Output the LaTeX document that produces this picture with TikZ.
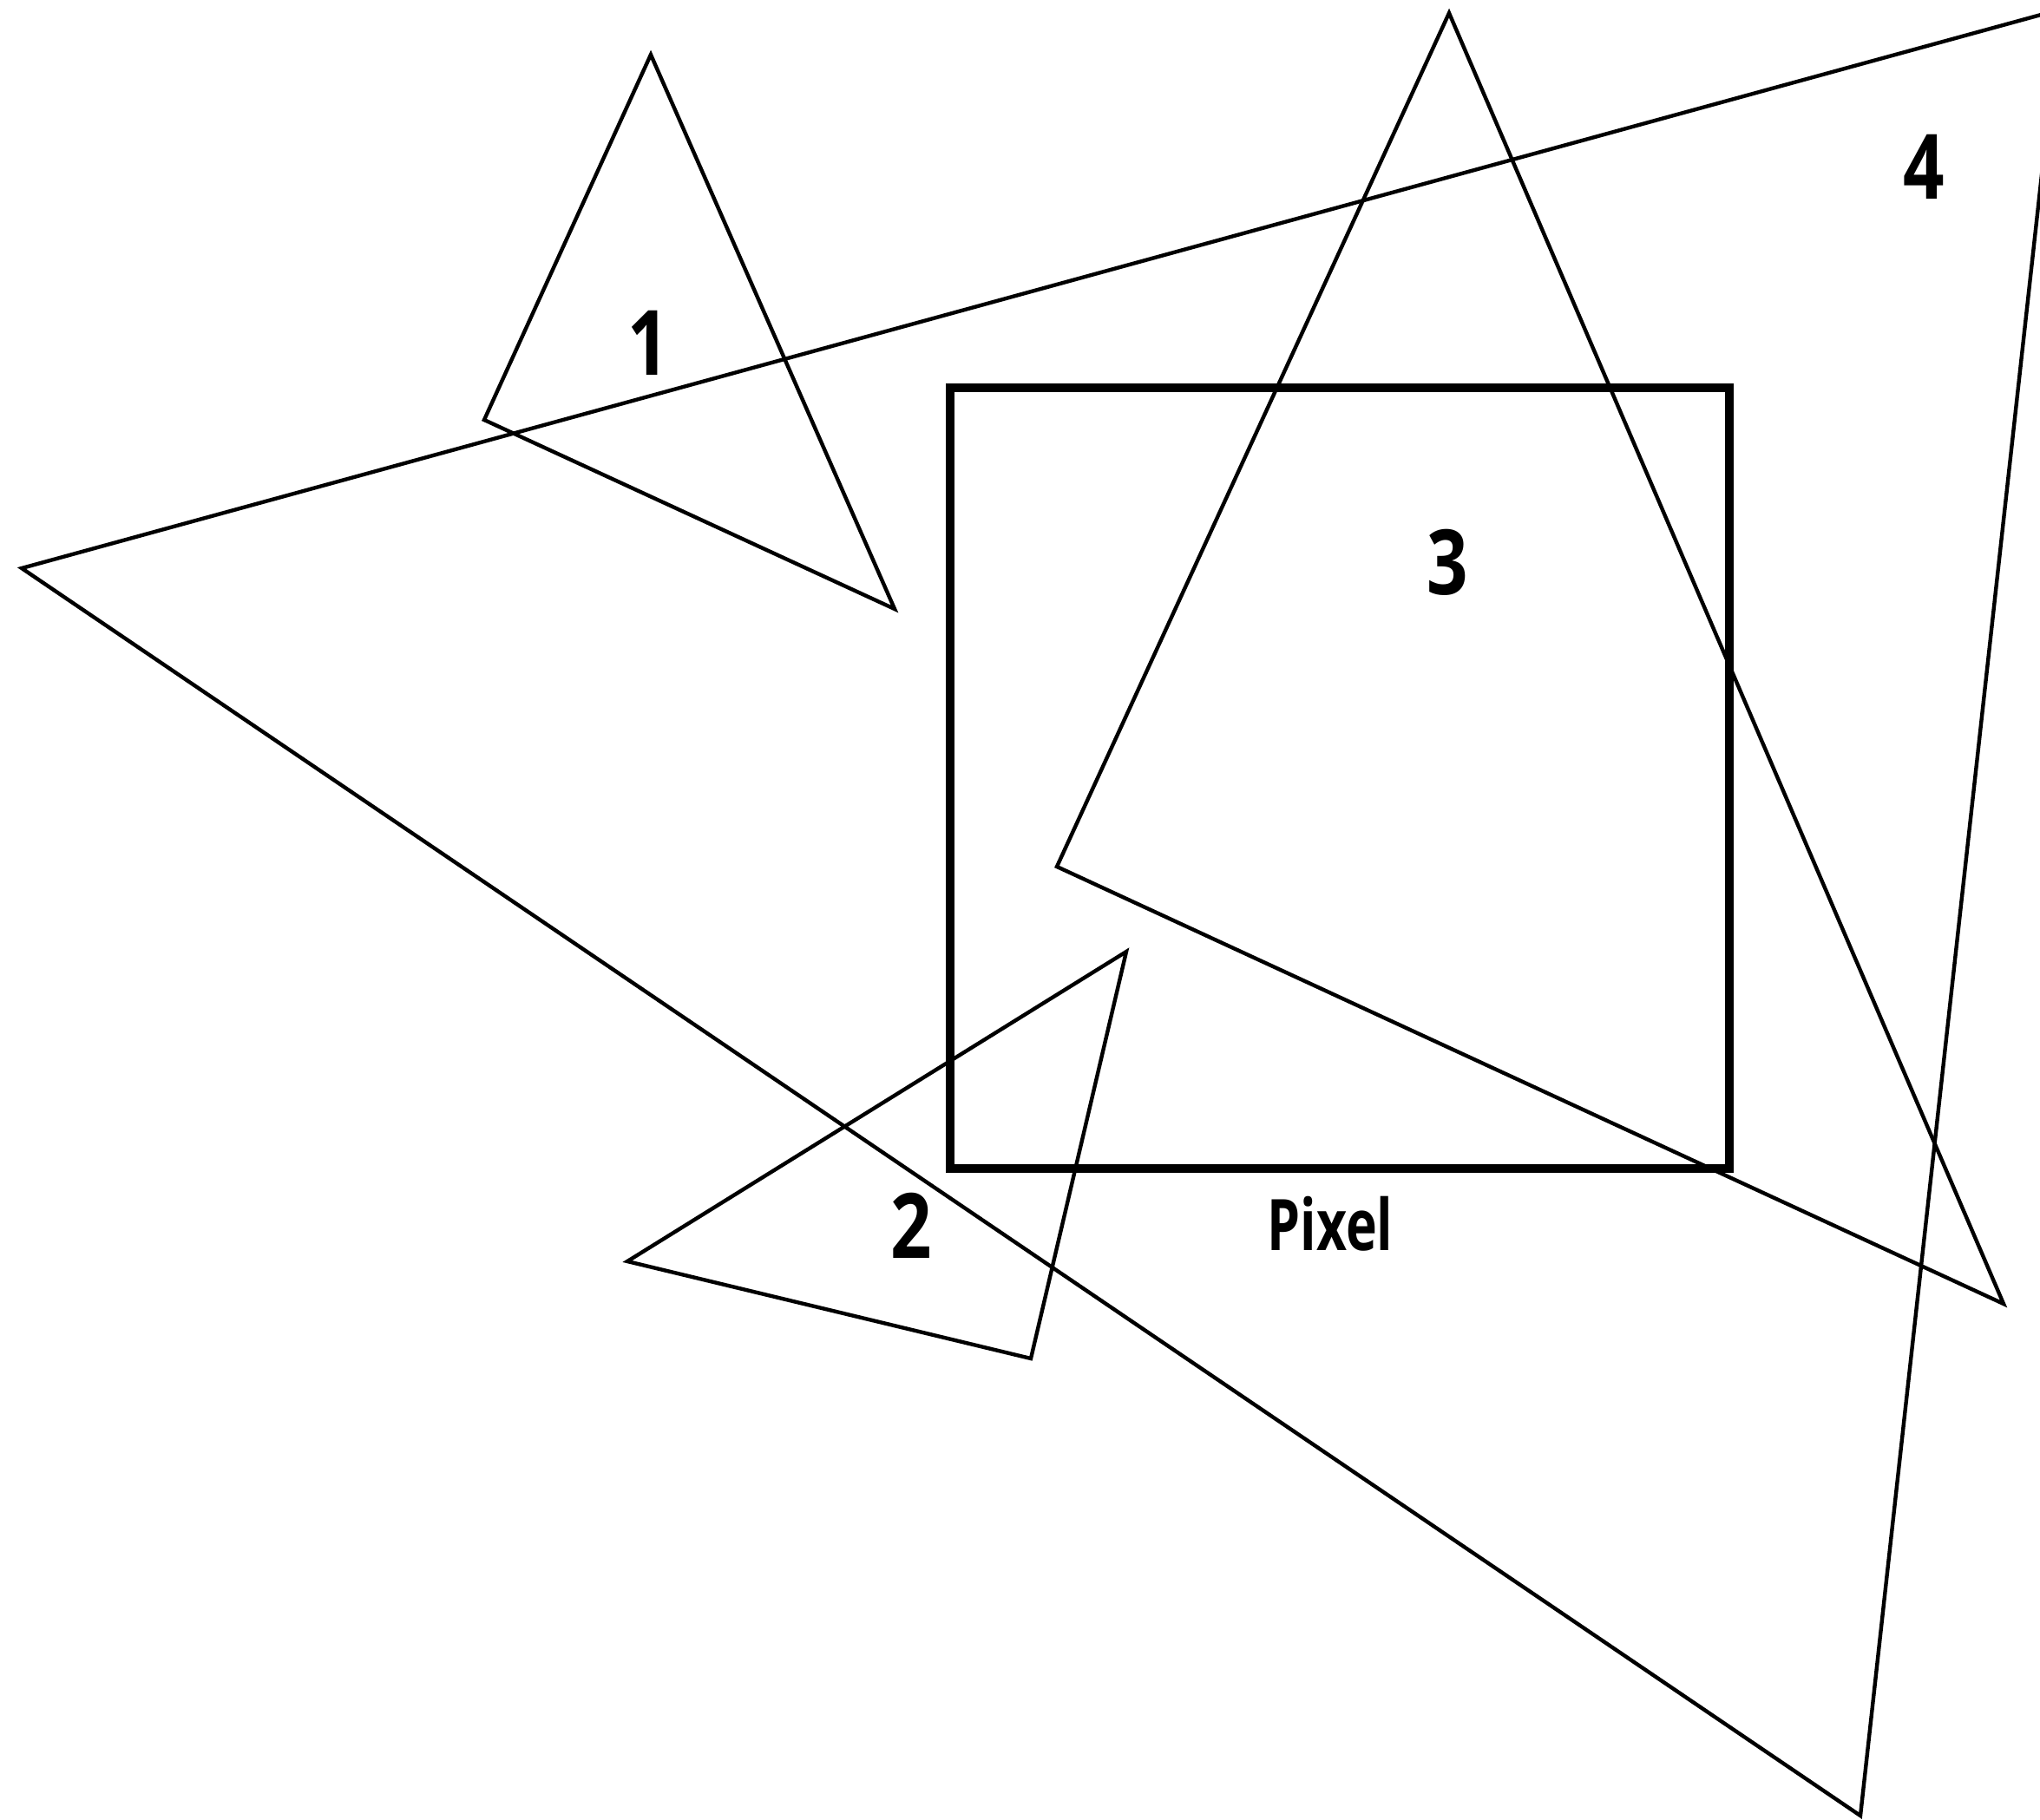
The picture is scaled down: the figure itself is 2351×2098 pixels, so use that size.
\documentclass[tikz,border=0pt]{standalone}
\usepackage{fontspec}
\setmainfont{Open Sans}
\begin{document}
\begin{tikzpicture}[x=0.5pt,y=-0.5pt,
  tri/.style={draw=black,line width=2.2pt,line join=miter},
  pixbox/.style={draw=black,line width=4.8pt,line join=miter},
  numlbl/.style={inner sep=0pt,anchor=base,font=\fontsize{52}{52}\selectfont\bfseries},
  pixlbl/.style={inner sep=0pt,anchor=base,font=\fontsize{41}{41}\selectfont\bfseries}]
\useasboundingbox (0,0) rectangle (2351,2098);
\begin{scope}
\clip (0,0) rectangle (2351,2098);
% triangle 1
\coordinate (a1) at (750,63);
\coordinate (b1) at (558,484);
\coordinate (c1) at (1031,702);
% big triangle 4
\coordinate (a4) at (25,655);
\coordinate (b4) at (2374,11);
\coordinate (c4) at (2144,2093);
% triangle 3
\coordinate (a3) at (1670,15);
\coordinate (b3) at (1218,999);
\coordinate (c3) at (2309,1503);
% triangle 2
\coordinate (a2) at (1298,1097);
\coordinate (b2) at (723,1454);
\coordinate (c2) at (1188,1566);
% pixel
\coordinate (p1) at (1095,447);
\coordinate (p2) at (1993,1347);
\draw[tri] (a1) -- (b1) -- (c1) -- cycle;
\draw[tri] (a4) -- (b4) -- (c4) -- cycle;
\draw[tri] (a3) -- (b3) -- (c3) -- cycle;
\draw[tri] (a2) -- (b2) -- (c2) -- cycle;
\draw[pixbox] (p1) rectangle (p2);
\end{scope}
\node[numlbl] (l1) at (747,432) {\scalebox{0.8}[1]{1}};
\node[numlbl] (l2) at (1050,1450) {\scalebox{0.8}[1]{2}};
\node[numlbl] (l3) at (1668,685) {\scalebox{0.8}[1]{3}};
\node[numlbl] (l4) at (2217,229) {\scalebox{0.8}[1]{4}};
\node[pixlbl] (lp) at (1533,1441) {\scalebox{0.74}[1]{Pixel}};
\end{tikzpicture}
\end{document}
